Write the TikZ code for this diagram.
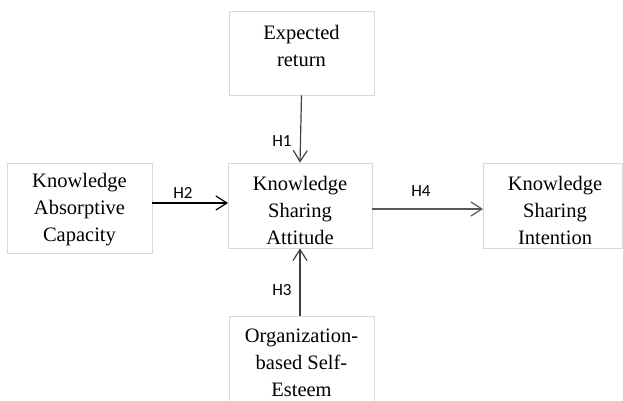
\documentclass[tikz,border=0pt]{standalone}
\usepackage{fontspec}
\setmainfont{Liberation Serif}
\newfontfamily\labelfont{Carlito}
\usetikzlibrary{arrows.meta}
\definecolor{boxgray}{HTML}{D9D9D9}
\definecolor{arrgray}{HTML}{404040}
\definecolor{arrgrayb}{HTML}{595959}
\tikzset{
  boxnode/.style={draw=boxgray, line width=0.9pt, inner sep=0pt},
  txt/.style={align=center, font=\fontsize{20.5}{27}\selectfont, inner sep=0pt},
  hlabel/.style={font=\labelfont\fontsize{17}{20}\selectfont, inner sep=0pt},
  conn/.style={line width=1.2pt, -{Straight Barb[length=11pt,width=14pt,line width=1.2pt]}},
}
\begin{document}
\begin{tikzpicture}[x=1pt,y=-1pt]
\useasboundingbox (0,0) rectangle (623,401);
\clip (0,0) rectangle (623,401);
% boxes
\node[boxnode, minimum width=145pt, minimum height=84pt] (er) at (301.5,53) {};
\node[boxnode, minimum width=144pt, minimum height=85pt] (ksa) at (300,205.5) {};
\node[boxnode, minimum width=145pt, minimum height=90pt] (kac) at (79.5,208) {};
\node[boxnode, minimum width=139pt, minimum height=85pt] (ksi) at (552.5,205.5) {};
\node[boxnode, minimum width=145pt, minimum height=100pt] (obse) at (301.5,366) {};
% texts
\node[txt] (ert) at (301.5,46) {Expected\\return};
\node[txt] (kact) at (79.5,210) {Knowledge\\Absorptive\\Capacity};
\node[txt] (ksat) at (300,210) {Knowledge\\Sharing\\Attitude};
\node[txt] (ksit) at (555,210) {Knowledge\\Sharing\\Intention};
\node[txt] (obset) at (301.5,363) {Organization-\\based Self-\\Esteem};
% connectors
\coordinate (h1s) at (er.south);
\coordinate (h1e) at (ksa.north);
\draw[conn, arrgray] (h1s) -- (h1e);
\coordinate (h2s) at (152,203);
\coordinate (h2e) at (228,203);
\draw[conn, black] (h2s) -- (h2e);
\draw[conn, arrgray] (obse.north -| ksa.north) -- (ksa.south);
\coordinate (h4s) at (372,209);
\coordinate (h4e) at (483,209);
\draw[conn, arrgrayb] (h4s) -- (h4e);
% labels
\node[hlabel] (l1) at (282,141) {H1};
\node[hlabel] (l2) at (183,193) {H2};
\node[hlabel] (l3) at (282,290) {H3};
\node[hlabel] (l4) at (421,191) {H4};
\end{tikzpicture}
\end{document}
